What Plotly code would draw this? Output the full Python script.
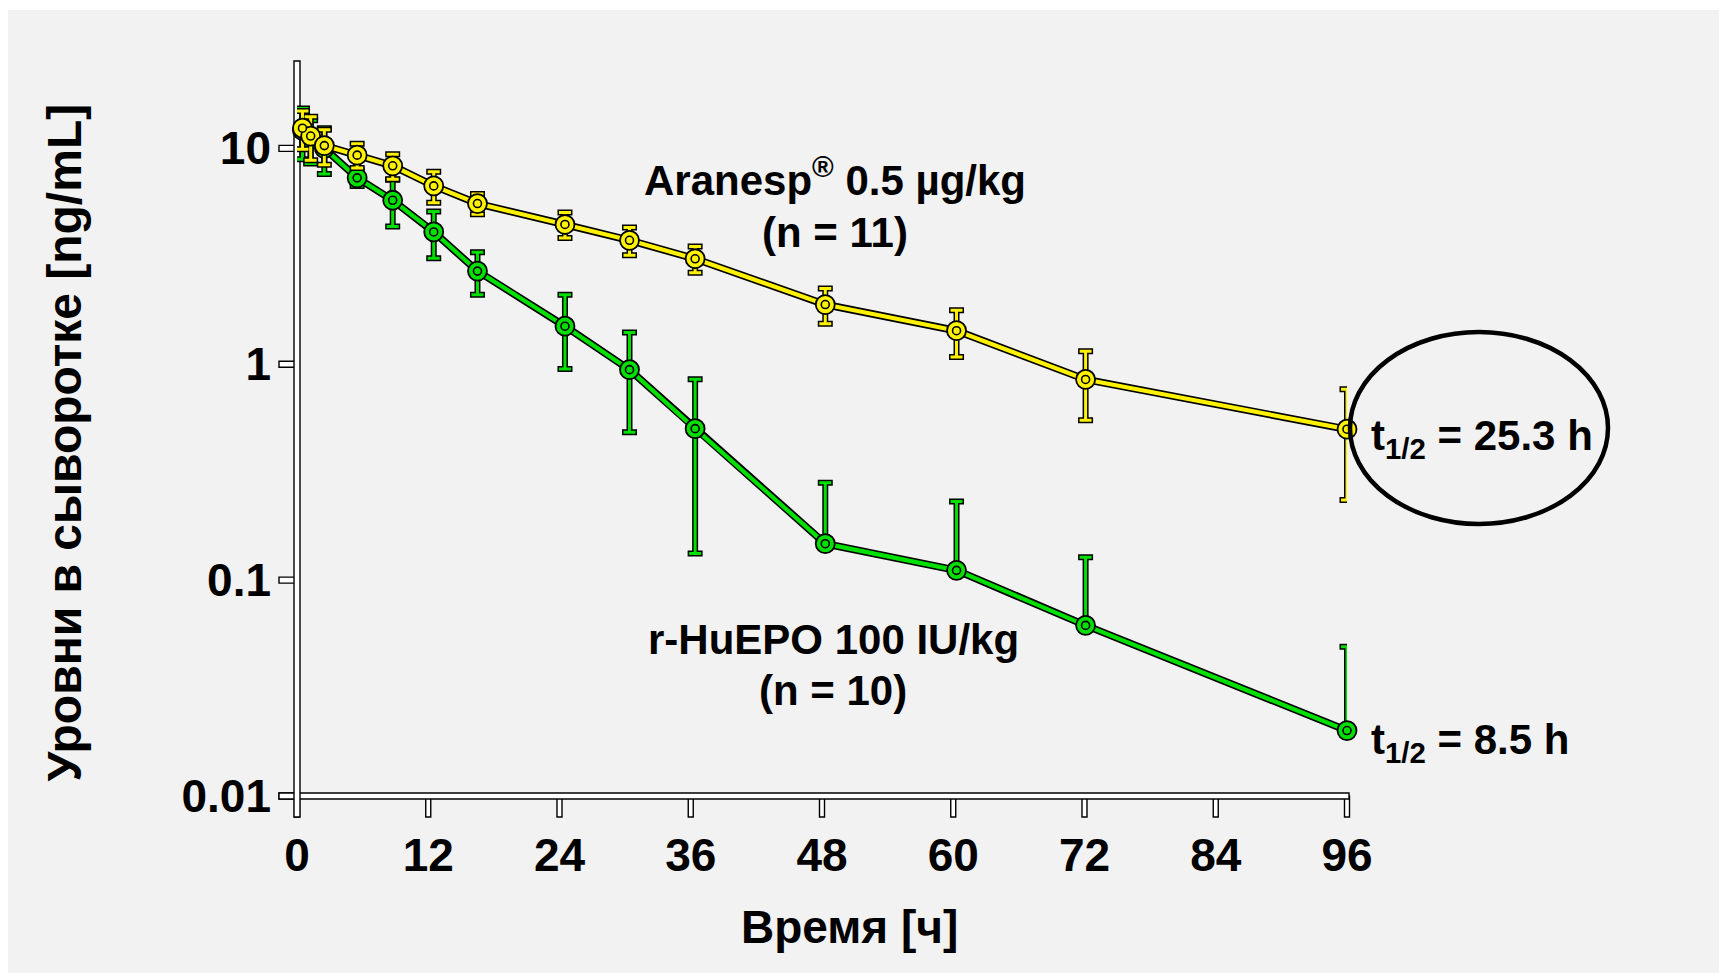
import math
import plotly.graph_objects as go

# ---------------- data ----------------
times = [0.5, 1.25, 2.5, 5.5, 8.75, 12.5, 16.5, 24.5, 30.4, 36.4, 48.3, 60.3, 72.1, 96]
aranesp_mean = [12.4, 11.4, 10.3, 9.3, 8.3, 6.7, 5.55, 4.44, 3.75, 3.08, 1.89, 1.43, 0.85, 0.50]
aranesp_sd = [2.5, 2.6, 1.9, 1.2, 1.1, 1.1, 0.6, 0.6, 0.55, 0.43, 0.35, 0.35, 0.30, 0.265]
epo_mean = [12.1, 11.0, 10.0, 7.3, 5.75, 4.10, 2.70, 1.50, 0.944, 0.503, 0.1475, 0.111, 0.0617, 0.0201]
epo_sd_plus = [3.2, 2.5, 2.4, 0.6, 1.4, 1.0, 0.6, 0.6, 0.46, 0.35, 0.135, 0.12, 0.066, 0.029]
epo_sd_minus = [3.2, 2.5, 2.4, 0.6, 1.4, 1.0, 0.6, 0.55, 0.46, 0.37, 0, 0, 0, 0]

x_ticks = [0, 12, 24, 36, 48, 60, 72, 84, 96]
y_ticks = [0.01, 0.1, 1, 10]
y_ticktext = ["0.01", "0.1", "1", "10"]

x_title = "Время [ч]"
y_title = "Уровни в сыворотке [ng/mL]"
aranesp_label = ["Aranesp<sup>®</sup> 0.5 µg/kg", "(n = 11)"]
epo_label = ["r-HuEPO 100 IU/kg", "(n = 10)"]
half_life = ["t<sub>1/2</sub> = 25.3 h", "t<sub>1/2</sub> = 8.5 h"]

# ---------------- layout geometry ----------------
FIG_W, FIG_H = 1719, 973
L, R, T, B = 297, 372, 62, 177
W = FIG_W - L - R
H = FIG_H - T - B
X_RANGE = [0, 96]
Y_RANGE = [-2, 1.4]

YELLOW = "#FFF200"
GREEN = "#00E000"
FONT = "Liberation Sans, Arial, sans-serif"


def px_x(px):
    return (px - L) / W


def px_y(py):
    return (FIG_H - B - py) / H


def data_x(t):
    return (t - X_RANGE[0]) / (X_RANGE[1] - X_RANGE[0])


def data_y(v):
    return (math.log10(v) - Y_RANGE[0]) / (Y_RANGE[1] - Y_RANGE[0])


fig = go.Figure()


def add_series(x, y, plus, minus, color):
    err_black = dict(type="data", array=plus, arrayminus=minus, symmetric=False,
                     color="black", thickness=6, width=7.5)
    err_col = dict(type="data", array=plus, arrayminus=minus, symmetric=False,
                   color=color, thickness=3, width=6)
    fig.add_trace(go.Scatter(x=x, y=y, mode="lines", line=dict(color="black", width=7.5),
                             error_y=err_black, cliponaxis=False, hoverinfo="skip"))
    fig.add_trace(go.Scatter(x=x, y=y, mode="lines", line=dict(color=color, width=4.2),
                             error_y=err_col, cliponaxis=False, hoverinfo="skip"))
    fig.add_trace(go.Scatter(x=x, y=y, mode="markers",
                             marker=dict(symbol="circle", size=19, color=color,
                                         line=dict(color="black", width=1.8)),
                             cliponaxis=False, hoverinfo="skip"))
    fig.add_trace(go.Scatter(x=x, y=y, mode="markers",
                             marker=dict(symbol="circle", size=8, color=color,
                                         line=dict(color="black", width=1.6)),
                             cliponaxis=False, hoverinfo="skip"))


add_series(times, epo_mean, epo_sd_plus, epo_sd_minus, GREEN)
add_series(times, aranesp_mean, aranesp_sd, aranesp_sd, YELLOW)

shapes = []
# white strips at top / left edge of the slide
shapes.append(dict(type="rect", xref="paper", yref="paper", layer="below",
                   x0=px_x(0), x1=px_x(FIG_W), y0=px_y(10), y1=px_y(0),
                   fillcolor="white", line=dict(width=0)))
shapes.append(dict(type="rect", xref="paper", yref="paper", layer="below",
                   x0=px_x(0), x1=px_x(8), y0=px_y(FIG_H), y1=px_y(0),
                   fillcolor="white", line=dict(width=0)))

axis_style = dict(type="rect", xref="paper", yref="paper", layer="below",
                  fillcolor="white", line=dict(color="black", width=1.4))
x0px = L + data_x(0) * W
y_axis_px = FIG_H - B
# y ticks (pointing left)
for v in y_ticks:
    yc = data_y(v)
    shapes.append(dict(axis_style, x0=px_x(x0px - 18), x1=px_x(x0px),
                       y0=yc - 3 / H, y1=yc + 3 / H))
# x ticks (pointing down)
for t in x_ticks:
    xc = data_x(t)
    shapes.append(dict(axis_style, x0=xc - 2.5 / W, x1=xc + 2.5 / W,
                       y0=px_y(y_axis_px + 21), y1=px_y(y_axis_px)))
# x axis line
shapes.append(dict(axis_style, x0=px_x(x0px - 18), x1=data_x(96) + 2 / W,
                   y0=px_y(y_axis_px + 3), y1=px_y(y_axis_px - 3)))
# y axis line
shapes.append(dict(axis_style, x0=px_x(x0px - 3), x1=px_x(x0px + 3),
                   y0=px_y(y_axis_px + 21), y1=px_y(61)))

# ellipse around the Aranesp half-life
shapes.append(dict(type="circle", xref="paper", yref="paper", layer="above",
                   x0=px_x(1350), x1=px_x(1608), y0=px_y(524), y1=px_y(332),
                   line=dict(color="black", width=4.5)))

ann_font = dict(family=FONT, size=42, color="black", weight="bold")
annotations = [
    dict(text=aranesp_label[0], x=px_x(835), y=px_y(206), xanchor="center", yanchor="bottom"),
    dict(text=aranesp_label[1], x=px_x(835), y=px_y(232.5), xanchor="center", yanchor="middle"),
    dict(text=epo_label[0], x=px_x(833), y=px_y(639), xanchor="center", yanchor="middle"),
    dict(text=epo_label[1], x=px_x(833), y=px_y(690), xanchor="center", yanchor="middle"),
    dict(text=half_life[0], x=px_x(1369), y=px_y(410), xanchor="left", yanchor="top"),
    dict(text=half_life[1], x=px_x(1369), y=px_y(713.7), xanchor="left", yanchor="top"),
]
for a in annotations:
    a.update(xref="paper", yref="paper", showarrow=False, font=ann_font)

title_font = dict(family=FONT, size=46, color="black", weight="bold")
ytitle_font = dict(family=FONT, size=48, color="black", weight="bold")
annotations.append(dict(text=x_title, x=px_x(849.5), y=px_y(926.5), xref="paper", yref="paper",
                        xanchor="center", yanchor="middle", showarrow=False, font=title_font))
annotations.append(dict(text=y_title, x=px_x(64), y=px_y(442.5), xref="paper", yref="paper",
                        xanchor="center", yanchor="middle", textangle=-90, showarrow=False,
                        font=ytitle_font))

tick_font = dict(family=FONT, size=46, color="black", weight="bold")
fig.update_layout(
    width=FIG_W, height=FIG_H,
    margin=dict(l=L, r=R, t=T, b=B, pad=0, autoexpand=False),
    paper_bgcolor="#F2F2F2", plot_bgcolor="rgba(0,0,0,0)",
    template="none", showlegend=False,
    shapes=shapes, annotations=annotations,
    xaxis=dict(range=X_RANGE, tickvals=x_ticks, ticktext=[str(t) for t in x_ticks],
               showgrid=False, zeroline=False, showline=False, ticks="",
               tickfont=tick_font, ticklabelstandoff=28, automargin=False),
    yaxis=dict(type="log", range=Y_RANGE, tickvals=y_ticks, ticktext=y_ticktext,
               showgrid=False, zeroline=False, showline=False, ticks="",
               tickfont=tick_font, ticklabelstandoff=25, automargin=False),
)

fig.write_html("out.html")
